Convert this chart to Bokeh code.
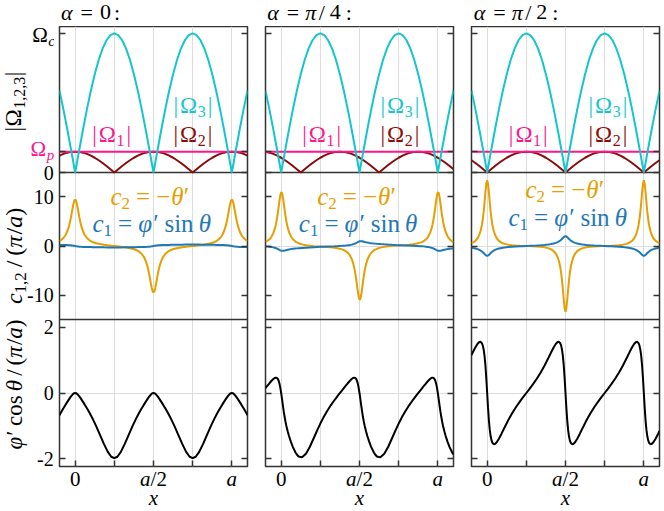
from bokeh.plotting import figure
from bokeh.models import Range1d, FixedTicker, LinearAxis, Label, Grid
from bokeh.layouts import row, column
from bokeh.embed import file_html
from bokeh.resources import INLINE

# ---------------- data ----------------
# x positions are phases 2*pi*x/a given in degrees (x in units of a = phase/360)
PHASE_ROW1_DEG = [-36, -27, -18, -9, 0, 9, 18, 27, 36, 45, 54, 63, 72, 81, 90, 99, 108, 117, 126, 135,
                  144, 153, 162, 171, 180, 189, 198, 207, 216, 225, 234, 243, 252, 261, 270, 279, 288,
                  297, 306, 315, 324, 333, 342, 351, 360, 369, 378, 387, 396]
OMEGA_P = 0.15          # in units of Omega_c
OMEGA1_X = [-0.1, 1.1]
OMEGA1_ABS = [0.15, 0.15]
OMEGA3_ABS = [0.5878, 0.454, 0.309, 0.1564, 0.0, 0.1564, 0.309, 0.454, 0.5878, 0.7071, 0.809, 0.891,
              0.9511, 0.9877, 1.0, 0.9877, 0.9511, 0.891, 0.809, 0.7071, 0.5878, 0.454, 0.309, 0.1564,
              0.0, 0.1564, 0.309, 0.454, 0.5878, 0.7071, 0.809, 0.891, 0.9511, 0.9877, 1.0, 0.9877,
              0.9511, 0.891, 0.809, 0.7071, 0.5878, 0.454, 0.309, 0.1564, 0.0, 0.1564, 0.309, 0.454, 0.5878]
OMEGA2_ABS_A0 = [0.1214, 0.1337, 0.1427, 0.1482, 0.15, 0.1482, 0.1427, 0.1337, 0.1214, 0.1061, 0.0882,
                 0.0681, 0.0464, 0.0235, 0.0, 0.0235, 0.0464, 0.0681, 0.0882, 0.1061, 0.1214, 0.1337,
                 0.1427, 0.1482, 0.15, 0.1482, 0.1427, 0.1337, 0.1214, 0.1061, 0.0882, 0.0681, 0.0464,
                 0.0235, 0.0, 0.0235, 0.0464, 0.0681, 0.0882, 0.1061, 0.1214, 0.1337, 0.1427, 0.1482,
                 0.15, 0.1482, 0.1427, 0.1337, 0.1214]
OMEGA2_ABS_A45 = [0.1482, 0.1427, 0.1337, 0.1214, 0.1061, 0.0882, 0.0681, 0.0464, 0.0235, 0.0, 0.0235,
                  0.0464, 0.0681, 0.0882, 0.1061, 0.1214, 0.1337, 0.1427, 0.1482, 0.15, 0.1482, 0.1427,
                  0.1337, 0.1214, 0.1061, 0.0882, 0.0681, 0.0464, 0.0235, 0.0, 0.0235, 0.0464, 0.0681,
                  0.0882, 0.1061, 0.1214, 0.1337, 0.1427, 0.1482, 0.15, 0.1482, 0.1427, 0.1337, 0.1214,
                  0.1061, 0.0882, 0.0681, 0.0464, 0.0235]
OMEGA2_ABS_A90 = [0.0882, 0.0681, 0.0464, 0.0235, 0.0, 0.0235, 0.0464, 0.0681, 0.0882, 0.1061, 0.1214,
                  0.1337, 0.1427, 0.1482, 0.15, 0.1482, 0.1427, 0.1337, 0.1214, 0.1061, 0.0882, 0.0681,
                  0.0464, 0.0235, 0.0, 0.0235, 0.0464, 0.0681, 0.0882, 0.1061, 0.1214, 0.1337, 0.1427,
                  0.1482, 0.15, 0.1482, 0.1427, 0.1337, 0.1214, 0.1061, 0.0882, 0.0681, 0.0464, 0.0235,
                  0.0, 0.0235, 0.0464, 0.0681, 0.0882]

PHASE_DEG = [-36, -33, -27, -22, -18, -15, -12, -10, -8, -6, -4, -2,
             0, 2, 4, 6, 8, 10, 12, 15, 18, 22, 27, 33, 36, 40, 48, 57, 66, 75, 83, 90,
             97, 105, 114, 123, 132, 140, 144, 147, 153, 158, 162, 165, 168, 170, 172, 174, 176, 178,
             180, 182, 184, 186, 188, 190, 192, 195, 198, 202, 207, 213, 216, 220, 228, 237, 246, 255, 263, 270,
             277, 285, 294, 303, 312, 320, 324, 327, 333, 338, 342, 345, 348, 350, 352, 354, 356, 358,
             360, 362, 364, 366, 368, 370, 372, 375, 378, 382, 387, 393, 396]

# alpha = 0
C2_A0 = [0.986, 1.151, 1.619, 2.239, 2.989, 3.773, 4.808, 5.653, 6.604, 7.599, 8.517, 9.182,
         9.428, 9.182, 8.517, 7.599, 6.604, 5.653, 4.808, 3.773, 2.989, 2.239, 1.619, 1.151, 0.986, 0.813, 0.571, 0.392, 0.263, 0.157, 0.072, 0.0,
         -0.072, -0.157, -0.263, -0.392, -0.571, -0.813, -0.986, -1.151, -1.619, -2.239, -2.989, -3.773, -4.808, -5.653, -6.604, -7.599, -8.517, -9.182,
         -9.428, -9.182, -8.517, -7.599, -6.604, -5.653, -4.808, -3.773, -2.989, -2.239, -1.619, -1.151, -0.986, -0.813, -0.571, -0.392, -0.263, -0.157, -0.072, 0.0,
         0.072, 0.157, 0.263, 0.392, 0.571, 0.813, 0.986, 1.151, 1.619, 2.239, 2.989, 3.773, 4.808, 5.653, 6.604, 7.599, 8.517, 9.182,
         9.428, 9.182, 8.517, 7.599, 6.604, 5.653, 4.808, 3.773, 2.989, 2.239, 1.619, 1.151, 0.986]
C1_A0 = [0.2216, 0.2163, 0.2048, 0.1931, 0.1806, 0.168, 0.1509, 0.136, 0.1173, 0.0942, 0.0664, 0.0345,
         0.0, -0.0345, -0.0664, -0.0942, -0.1173, -0.136, -0.1509, -0.168, -0.1806, -0.1931, -0.2048, -0.2163, -0.2216, -0.2285, -0.2423, -0.2582, -0.2736, -0.2868, -0.2944, -0.2967,
         -0.2944, -0.2868, -0.2736, -0.2582, -0.2423, -0.2285, -0.2216, -0.2163, -0.2048, -0.1931, -0.1806, -0.168, -0.1509, -0.136, -0.1173, -0.0942, -0.0664, -0.0345,
         0.0, 0.0345, 0.0664, 0.0942, 0.1173, 0.136, 0.1509, 0.168, 0.1806, 0.1931, 0.2048, 0.2163, 0.2216, 0.2285, 0.2423, 0.2582, 0.2736, 0.2868, 0.2944, 0.2967,
         0.2944, 0.2868, 0.2736, 0.2582, 0.2423, 0.2285, 0.2216, 0.2163, 0.2048, 0.1931, 0.1806, 0.168, 0.1509, 0.136, 0.1173, 0.0942, 0.0664, 0.0345,
         0.0, -0.0345, -0.0664, -0.0942, -0.1173, -0.136, -0.1509, -0.168, -0.1806, -0.1931, -0.2048, -0.2163, -0.2216]
C3_A0 = [-0.6751, -0.6018, -0.4629, -0.3536, -0.2696, -0.2085, -0.1496, -0.1122, -0.0774, -0.0466, -0.0219, -0.0057,
         0.0, -0.0057, -0.0219, -0.0466, -0.0774, -0.1122, -0.1496, -0.2085, -0.2696, -0.3536, -0.4629, -0.6018, -0.6751, -0.7773, -0.9976, -1.2676, -1.5437, -1.7877, -1.9338, -1.9779,
         -1.9338, -1.7877, -1.5437, -1.2676, -0.9976, -0.7773, -0.6751, -0.6018, -0.4629, -0.3536, -0.2696, -0.2085, -0.1496, -0.1122, -0.0774, -0.0466, -0.0219, -0.0057,
         0.0, -0.0057, -0.0219, -0.0466, -0.0774, -0.1122, -0.1496, -0.2085, -0.2696, -0.3536, -0.4629, -0.6018, -0.6751, -0.7773, -0.9976, -1.2676, -1.5437, -1.7877, -1.9338, -1.9779,
         -1.9338, -1.7877, -1.5437, -1.2676, -0.9976, -0.7773, -0.6751, -0.6018, -0.4629, -0.3536, -0.2696, -0.2085, -0.1496, -0.1122, -0.0774, -0.0466, -0.0219, -0.0057,
         0.0, -0.0057, -0.0219, -0.0466, -0.0774, -0.1122, -0.1496, -0.2085, -0.2696, -0.3536, -0.4629, -0.6018, -0.6751]

# alpha = pi/4
C2_A45 = [0.825, 0.963, 1.365, 1.915, 2.607, 3.365, 4.429, 5.357, 6.484, 7.779, 9.125, 10.271,
          10.887, 10.743, 9.894, 8.633, 7.276, 6.025, 4.961, 3.722, 2.834, 2.023, 1.378, 0.904, 0.740, 0.568, 0.330, 0.161, 0.050, -0.026, -0.079, -0.119,
          -0.157, -0.203, -0.267, -0.355, -0.489, -0.682, -0.825, -0.963, -1.365, -1.915, -2.607, -3.365, -4.429, -5.357, -6.484, -7.779, -9.125, -10.271,
          -10.887, -10.743, -9.894, -8.633, -7.276, -6.025, -4.961, -3.722, -2.834, -2.023, -1.378, -0.904, -0.740, -0.568, -0.330, -0.161, -0.050, 0.026, 0.079, 0.119,
          0.157, 0.203, 0.267, 0.355, 0.489, 0.682, 0.825, 0.963, 1.365, 1.915, 2.607, 3.365, 4.429, 5.357, 6.484, 7.779, 9.125, 10.271,
          10.887, 10.743, 9.894, 8.633, 7.276, 6.025, 4.961, 3.722, 2.834, 2.023, 1.378, 0.904, 0.740]
C1_A45 = [-0.0535, -0.0764, -0.1346, -0.2022, -0.2759, -0.3477, -0.4384, -0.5114, -0.595, -0.6875, -0.7837, -0.8734,
          -0.9428, -0.9804, -0.9835, -0.959, -0.9179, -0.8699, -0.8212, -0.7535, -0.695, -0.6308, -0.5675, -0.5078, -0.4822, -0.451, -0.3946, -0.337, -0.2843, -0.237, -0.1997, -0.1704,
          -0.1435, -0.115, -0.0839, -0.0516, -0.0144, 0.0274, 0.0535, 0.0764, 0.1346, 0.2022, 0.2759, 0.3477, 0.4384, 0.5114, 0.595, 0.6875, 0.7837, 0.8734,
          0.9428, 0.9804, 0.9835, 0.959, 0.9179, 0.8699, 0.8212, 0.7535, 0.695, 0.6308, 0.5675, 0.5078, 0.4822, 0.451, 0.3946, 0.337, 0.2843, 0.237, 0.1997, 0.1704,
          0.1435, 0.115, 0.0839, 0.0516, 0.0144, -0.0274, -0.0535, -0.0764, -0.1346, -0.2022, -0.2759, -0.3477, -0.4384, -0.5114, -0.595, -0.6875, -0.7837, -0.8734,
          -0.9428, -0.9804, -0.9835, -0.959, -0.9179, -0.8699, -0.8212, -0.7535, -0.695, -0.6308, -0.5675, -0.5078, -0.4822]
C3_A45 = [0.1491, 0.1983, 0.2953, 0.3716, 0.4244, 0.4535, 0.4656, 0.458, 0.4314, 0.3783, 0.2909, 0.164,
          0.0, -0.1885, -0.3824, -0.5656, -0.7297, -0.8735, -0.9996, -1.1629, -1.3038, -1.4673, -1.641, -1.8052, -1.8669, -1.9253, -1.9523, -1.8447, -1.6301, -1.3652, -1.1253, -0.9273,
          -0.7459, -0.5597, -0.3737, -0.2062, -0.0504, 0.0831, 0.1491, 0.1983, 0.2953, 0.3716, 0.4244, 0.4535, 0.4656, 0.458, 0.4314, 0.3783, 0.2909, 0.164,
          0.0, -0.1885, -0.3824, -0.5656, -0.7297, -0.8735, -0.9996, -1.1629, -1.3038, -1.4673, -1.641, -1.8052, -1.8669, -1.9253, -1.9523, -1.8447, -1.6301, -1.3652, -1.1253, -0.9273,
          -0.7459, -0.5597, -0.3737, -0.2062, -0.0504, 0.0831, 0.1491, 0.1983, 0.2953, 0.3716, 0.4244, 0.4535, 0.4656, 0.458, 0.4314, 0.3783, 0.2909, 0.164,
          0.0, -0.1885, -0.3824, -0.5656, -0.7297, -0.8735, -0.9996, -1.1629, -1.3038, -1.4673, -1.641, -1.8052, -1.8669]

# alpha = pi/2
C2_A90 = [0.557, 0.678, 1.044, 1.569, 2.269, 3.083, 4.307, 5.458, 6.955, 8.813, 10.866, 12.618,
          13.333, 12.618, 10.866, 8.813, 6.955, 5.458, 4.307, 3.083, 2.269, 1.569, 1.044, 0.678, 0.557, 0.435, 0.274, 0.169, 0.103, 0.057, 0.025, 0.0,
          -0.025, -0.057, -0.103, -0.169, -0.274, -0.435, -0.557, -0.678, -1.044, -1.569, -2.269, -3.083, -4.307, -5.458, -6.955, -8.813, -10.866, -12.618,
          -13.333, -12.618, -10.866, -8.813, -6.955, -5.458, -4.307, -3.083, -2.269, -1.569, -1.044, -0.678, -0.557, -0.435, -0.274, -0.169, -0.103, -0.057, -0.025, 0.0,
          0.025, 0.057, 0.103, 0.169, 0.274, 0.435, 0.557, 0.678, 1.044, 1.569, 2.269, 3.083, 4.307, 5.458, 6.955, 8.813, 10.866, 12.618,
          13.333, 12.618, 10.866, 8.813, 6.955, 5.458, 4.307, 3.083, 2.269, 1.569, 1.044, 0.678, 0.557]
C1_A90 = [-0.3413, -0.3871, -0.504, -0.6393, -0.7865, -0.93, -1.1124, -1.2605, -1.4306, -1.6171, -1.8011, -1.9445,
          -2.0, -1.9445, -1.8011, -1.6171, -1.4306, -1.2605, -1.1124, -0.93, -0.7865, -0.6393, -0.504, -0.3871, -0.3413, -0.2898, -0.2103, -0.1455, -0.0963, -0.0565, -0.0256, 0.0,
          0.0256, 0.0565, 0.0963, 0.1455, 0.2103, 0.2898, 0.3413, 0.3871, 0.504, 0.6393, 0.7865, 0.93, 1.1124, 1.2605, 1.4306, 1.6171, 1.8011, 1.9445,
          2.0, 1.9445, 1.8011, 1.6171, 1.4306, 1.2605, 1.1124, 0.93, 0.7865, 0.6393, 0.504, 0.3871, 0.3413, 0.2898, 0.2103, 0.1455, 0.0963, 0.0565, 0.0256, 0.0,
          -0.0256, -0.0565, -0.0963, -0.1455, -0.2103, -0.2898, -0.3413, -0.3871, -0.504, -0.6393, -0.7865, -0.93, -1.1124, -1.2605, -1.4306, -1.6171, -1.8011, -1.9445,
          -2.0, -1.9445, -1.8011, -1.6171, -1.4306, -1.2605, -1.1124, -0.93, -0.7865, -0.6393, -0.504, -0.3871, -0.3413]
C3_A90 = [1.1531, 1.2343, 1.3889, 1.4952, 1.548, 1.5535, 1.5096, 1.4377, 1.3146, 1.1208, 0.8356, 0.4521,
          0.0, -0.4521, -0.8356, -1.1208, -1.3146, -1.4377, -1.5096, -1.5535, -1.548, -1.4952, -1.3889, -1.2343, -1.1531, -1.0447, -0.8361, -0.6227, -0.4328, -0.2618, -0.1201, 0.0,
          0.1201, 0.2618, 0.4328, 0.6227, 0.8361, 1.0447, 1.1531, 1.2343, 1.3889, 1.4952, 1.548, 1.5535, 1.5096, 1.4377, 1.3146, 1.1208, 0.8356, 0.4521,
          0.0, -0.4521, -0.8356, -1.1208, -1.3146, -1.4377, -1.5096, -1.5535, -1.548, -1.4952, -1.3889, -1.2343, -1.1531, -1.0447, -0.8361, -0.6227, -0.4328, -0.2618, -0.1201, 0.0,
          0.1201, 0.2618, 0.4328, 0.6227, 0.8361, 1.0447, 1.1531, 1.2343, 1.3889, 1.4952, 1.548, 1.5535, 1.5096, 1.4377, 1.3146, 1.1208, 0.8356, 0.4521,
          0.0, -0.4521, -0.8356, -1.1208, -1.3146, -1.4377, -1.5096, -1.5535, -1.548, -1.4952, -1.3889, -1.2343, -1.1531]

ROW1_YTICKS = [0.0, 0.15, 1.0]
ROW1_YLABELS = ["0", None, None]        # Omega_p and Omega_c are drawn with subscripts below
ROW2_YTICKS = [-10.0, 0.0, 10.0]
ROW2_YLABELS = ["-10", "0", "10"]
ROW3_YTICKS = [-2.0, 0.0, 2.0]
ROW3_YLABELS = ["-2", "0", "2"]
X_TICKS = [0.0, 0.25, 0.5, 0.75, 1.0]

for lst in (C2_A0, C1_A0, C3_A0, C2_A45, C1_A45, C3_A45, C2_A90, C1_A90, C3_A90):
    assert len(lst) == len(PHASE_DEG), len(lst)
for lst in (OMEGA3_ABS, OMEGA2_ABS_A0, OMEGA2_ABS_A45, OMEGA2_ABS_A90):
    assert len(lst) == len(PHASE_ROW1_DEG), len(lst)

# ---------------- styling / layout ----------------
FONT = "Liberation Serif"
CYAN = "#14c6cc"
PINK = "#ff158c"
DARKRED = "#8b0a0a"
ORANGE = "#e69f00"
BLUE = "#1f78b4"
FRAME_C = "#333333"
GRID_C = "#dcdcdc"
IT, N = "italic", "normal"
MID_FRAC = 0.34     # distance (in em) from the alphabetic baseline to the text's middle line

TOTAL_W, TOTAL_H = 664, 511
LEFT_W = 54
TOP_H = 26
FRAME_W, FRAME_H = 188, 440
BL = [5, 9, 9]
BR = [9, 9, 5]
BB = 2
MID_H = FRAME_H + BB
BOT_H = TOTAL_H - TOP_H - MID_H
RIGHT_W = TOTAL_W - LEFT_W
XLIM = (-0.1, 1.1)
BANDS = {"r1": (294.0, 440.0), "r2": (147.0, 294.0), "r3": (0.0, 147.0)}
YLIM = {"r1": (0.0, 1.05), "r2": (-14.9, 14.9), "r3": (-2.23, 2.23)}
WIDTHS = [BL[i] + FRAME_W + BR[i] for i in range(3)]
FX0 = [LEFT_W + sum(WIDTHS[:i]) + BL[i] for i in range(3)]   # page x of frame left
FRAME_BOTTOM = TOP_H + FRAME_H                               # page y of frame bottom


def full_range(name):
    b0, b1 = BANDS[name]
    lo, hi = YLIM[name]
    k = (hi - lo) / (b1 - b0)
    return Range1d(lo - b0 * k, hi + (FRAME_H - b1) * k)


def to_px(name, v):
    b0, b1 = BANDS[name]
    lo, hi = YLIM[name]
    return round(b0 + (v - lo) / (hi - lo) * (b1 - b0), 3)


def xpx(v):
    return (v - XLIM[0]) / (XLIM[1] - XLIM[0]) * FRAME_W


REG_W = {" ": 0.25, "=": 0.564, "−": 0.564, "-": 0.333, "/": 0.278, "(": 0.333, ")": 0.333,
         ",": 0.25, "|": 0.2, ":": 0.278, "c": 0.444, "o": 0.5, "s": 0.389, "i": 0.278, "n": 0.5,
         "Ω": 0.768, "′": 0.25, "π": 0.55}
IT_W = {"a": 0.5, "c": 0.444, "p": 0.5, "x": 0.444, "α": 0.53, "θ": 0.5, "φ": 0.6, "π": 0.55}


def twidth(s, style, size):
    tot = 0.0
    for ch in s:
        if style == IT and ch in IT_W:
            tot += IT_W[ch]
        else:
            tot += REG_W.get(ch, 0.5)
    return tot * size


def put_text(p, origin, page_x, page_y, pieces, color, angle=0, align="left", xrn="default"):
    """pieces: (text, style, size, baseline shift down, gap before[, absolute offset]);
    page_x/page_y = start of the alphabetic baseline in page pixels."""
    ox, oy = origin
    adv = 0.0
    pos = []
    for piece in pieces:
        txt, style, size, shift, gap = piece[:5]
        if len(piece) > 5:
            adv = piece[5]
        else:
            adv += gap
        pos.append((txt, style, size, shift, adv))
        adv += twidth(txt, style, size)
    start = {"left": 0.0, "center": -adv / 2.0, "right": -adv}[align]
    for txt, style, size, shift, a in pos:
        a += start
        if angle == 0:
            mid_page_y = page_y + shift - MID_FRAC * size
            x, y = page_x - ox + a, oy - mid_page_y
        else:
            mid_page_x = page_x + shift - MID_FRAC * size
            x, y = mid_page_x - ox, oy - page_y + a
        p.add_layout(Label(x=x, y=y, x_range_name=xrn, text=txt, text_font=FONT,
                           text_font_style=style, text_font_size=f"{size}px", text_color=color,
                           text_align="left", text_baseline="middle",
                           angle=angle, angle_units="deg"))


def strip(w, h):
    s = figure(width=w, height=h, output_backend="svg", toolbar_location=None,
               x_range=Range1d(0, w), y_range=Range1d(0, h),
               x_axis_location=None, y_axis_location=None,
               min_border_left=0, min_border_right=0, min_border_top=0, min_border_bottom=0)
    s.grid.visible = False
    s.outline_line_color = None
    s.background_fill_color = "white"
    s.border_fill_color = "white"
    return s


def omega_pieces(k):
    return [("|", N, 23, 0, 0), ("Ω", N, 23, 0, 2), (k, N, 16, 3.5, 0), ("|", N, 23, 0, 2)]


C2_PIECES = [("c", IT, 25, 0, 0), ("2", N, 17, 4.5, 0), ("=", N, 25, 0, 6), ("−", N, 25, 0, 6),
             ("θ", IT, 25, 0, 1), ("′", N, 25, 0, 0)]
C1_PIECES = [("c", IT, 25, 0, 0), ("1", N, 17, 4.5, 0), ("=", N, 25, 0, 6), ("φ", IT, 25, 0, 6),
             ("′", N, 25, 0, 0), ("sin", N, 25, 0, 5), ("θ", IT, 25, 0, 5)]

TITLE_HEAD = [("α", IT, 22, 0, 0, 0.0), ("=", N, 22, 0, 0, 19.5)]
PANELS = [
    dict(om2=OMEGA2_ABS_A0, c2=C2_A0, c1=C1_A0, c3=C3_A0,
         title_val=[("0", N, 22, 0, 0, 39.0), (":", N, 22, 0, 0, 53.0)],
         title_x=60.5, om_pos=[(91.7, 141.5), (173, 112.5), (173, 141.5)],
         c_pos=[(110, 204), (92, 231.5)]),
    dict(om2=OMEGA2_ABS_A45, c2=C2_A45, c1=C1_A45, c3=C3_A45,
         title_val=[("π", IT, 22, 0, 0, 38.0), ("/", N, 22, 0, 0, 51.5), ("4", N, 22, 0, 0, 62.5),
                    (":", N, 22, 0, 0, 78.5)],
         title_x=266.7, om_pos=[(301.7, 141.5), (380, 112.5), (380, 141.5)],
         c_pos=[(316.7, 204), (298.3, 231)]),
    dict(om2=OMEGA2_ABS_A90, c2=C2_A90, c1=C1_A90, c3=C3_A90,
         title_val=[("π", IT, 22, 0, 0, 38.0), ("/", N, 22, 0, 0, 51.5), ("2", N, 22, 0, 0, 62.5),
                    (":", N, 22, 0, 0, 78.5)],
         title_x=473.3, om_pos=[(508.3, 141.5), (588, 112.5), (588, 141.5)],
         c_pos=[(525, 197.5), (508, 225)]),
]

x_row1 = [t / 360.0 for t in PHASE_ROW1_DEG]
x_rows23 = [t / 360.0 for t in PHASE_DEG]

ytick_px, ytick_text = [], []
for name, ticks, labs in (("r1", ROW1_YTICKS, ROW1_YLABELS), ("r2", ROW2_YTICKS, ROW2_YLABELS),
                          ("r3", ROW3_YTICKS, ROW3_YLABELS)):
    for v, lab in zip(ticks, labs):
        pv = to_px(name, v)
        ytick_px.append(pv)
        ytick_text.append((pv, lab))


def tick_axis(ticks):
    ax = LinearAxis(ticker=FixedTicker(ticks=ticks, minor_ticks=[]), axis_line_color=None,
                    major_tick_in=6, major_tick_out=0, major_tick_line_color=FRAME_C,
                    major_tick_line_width=1.5, minor_tick_line_color=None,
                    major_label_text_font_size="1px", major_label_standoff=0,
                    major_label_text_color=None,
                    major_label_overrides={t: "" for t in ticks})
    return ax


left = strip(LEFT_W, TOTAL_H)
top = strip(RIGHT_W, TOP_H)
bottom = strip(RIGHT_W, BOT_H)
LEFT_O = (0, TOTAL_H)
TOP_O = (LEFT_W, TOP_H)
BOT_O = (LEFT_W, TOTAL_H)

figs = []
for i, P in enumerate(PANELS):
    p = figure(width=WIDTHS[i], height=MID_H, output_backend="svg", toolbar_location=None,
               x_range=Range1d(*XLIM), y_range=Range1d(0, FRAME_H),
               x_axis_location=None, y_axis_location=None,
               min_border_left=BL[i], min_border_right=BR[i], min_border_top=0, min_border_bottom=BB)
    p.extra_y_ranges = {n: full_range(n) for n in BANDS}
    p.extra_x_ranges = {"px": Range1d(0, FRAME_W)}
    p.grid.visible = False
    p.background_fill_color = "white"
    p.border_fill_color = "white"
    p.outline_line_color = FRAME_C
    p.outline_line_width = 1.5
    p.add_layout(Grid(dimension=0, ticker=FixedTicker(ticks=X_TICKS, minor_ticks=[]),
                      grid_line_color=GRID_C, grid_line_width=1), "center")

    # zero lines and row separators
    p.hspan(y=[0.0], y_range_name="r2", line_color=GRID_C, line_width=1)
    p.hspan(y=[0.0], y_range_name="r3", line_color=GRID_C, line_width=1)
    p.hspan(y=[YLIM["r2"][1]], y_range_name="r2", line_color=FRAME_C, line_width=1.5)
    p.hspan(y=[YLIM["r3"][1]], y_range_name="r3", line_color=FRAME_C, line_width=1.5)

    # row 1: |Omega_1,2,3|
    p.line(x_row1, P["om2"], y_range_name="r1", line_color=DARKRED, line_width=2)
    p.line(OMEGA1_X, OMEGA1_ABS, y_range_name="r1", line_color=PINK, line_width=2)
    p.line(x_row1, OMEGA3_ABS, y_range_name="r1", line_color=CYAN, line_width=2)
    # row 2: c1, c2
    p.line(x_rows23, P["c2"], y_range_name="r2", line_color=ORANGE, line_width=2)
    p.line(x_rows23, P["c1"], y_range_name="r2", line_color=BLUE, line_width=2)
    # row 3
    p.line(x_rows23, P["c3"], y_range_name="r3", line_color="black", line_width=2)

    # tick marks (inward, mirrored)
    p.add_layout(tick_axis(ytick_px), "left")
    p.add_layout(tick_axis(ytick_px), "right")
    p.add_layout(tick_axis(X_TICKS), "below")

    origin = (FX0[i], FRAME_BOTTOM)
    # row 1 annotations
    (a1, b1), (a3, b3), (a2, b2) = P["om_pos"]
    put_text(p, origin, a1, b1, omega_pieces("1"), PINK, xrn="px")
    put_text(p, origin, a3, b3, omega_pieces("3"), CYAN, xrn="px")
    put_text(p, origin, a2, b2, omega_pieces("2"), DARKRED, xrn="px")
    # row 2 annotations
    (l1x, l1y), (l2x, l2y) = P["c_pos"]
    put_text(p, origin, l1x, l1y, C2_PIECES, ORANGE, xrn="px")
    put_text(p, origin, l2x, l2y, C1_PIECES, BLUE, xrn="px")

    # titles
    put_text(top, TOP_O, P["title_x"], 19.0, TITLE_HEAD + P["title_val"], "black")
    # x tick labels and x axis label
    base = 486.0
    put_text(bottom, BOT_O, FX0[i] + xpx(0.0), base, [("0", N, 21, 0, 0)], "black", align="center")
    put_text(bottom, BOT_O, FX0[i] + xpx(0.5), base, [("a", IT, 21, 0, 0), ("/2", N, 21, 0, 0)],
             "black", align="center")
    put_text(bottom, BOT_O, FX0[i] + xpx(1.0), base, [("a", IT, 21, 0, 0)], "black", align="center")
    put_text(bottom, BOT_O, FX0[i] + xpx(0.5), 504.5, [("x", IT, 21, 0, 0)], "black", align="center")
    figs.append(p)

# y tick labels of the first column (numbers), right aligned next to the frame
for pv, lab in ytick_text:
    if lab is None:
        continue
    left.add_layout(Label(x=FX0[0] - 5.8, y=TOTAL_H - FRAME_BOTTOM + pv, text=lab, text_font=FONT,
                          text_font_size="20px", text_color="black", text_align="right",
                          text_baseline="middle"))
# Omega_c and Omega_p tick labels
put_text(left, LEFT_O, 31.7, 41.7, [("Ω", N, 21, 0, 0), ("c", IT, 15, 3.5, 0)], "black")
put_text(left, LEFT_O, 30.0, 155.3, [("Ω", N, 21, 0, 0), ("p", IT, 15, 4.5, 0)], PINK)
# rotated y axis labels
put_text(left, LEFT_O, 20.5, 131, [("|", N, 23, 0, 0), ("Ω", N, 23, 0, 0.5), ("1,2,3", N, 16, 3.5, 0),
                                   ("|", N, 23, 0, 0.5)], "black", angle=90)
put_text(left, LEFT_O, 21.7, 303.5, [("c", IT, 24, 0, 0), ("1,2", N, 16.8, 4, 0), ("/", N, 24, 0, 5),
                                     ("(", N, 24, 0, 5), ("π", IT, 24, 0, 0), ("/", N, 24, 0, 0),
                                     ("a", IT, 24, 0, 0), (")", N, 24, 0, 0)], "black", angle=90)
put_text(left, LEFT_O, 22.0, 449, [("φ", IT, 23, 0, 0), ("′", N, 23, 0, 0), ("cos", N, 23, 0, 4),
                                   ("θ", IT, 23, 0, 4), ("/", N, 23, 0, 4), ("(", N, 23, 0, 4),
                                   ("π", IT, 23, 0, 0), ("/", N, 23, 0, 0), ("a", IT, 23, 0, 0),
                                   (")", N, 23, 0, 0)], "black", angle=90)

layout = row(left, column(top, row(*figs), bottom))
open("out.html", "w").write(file_html(layout, INLINE))
